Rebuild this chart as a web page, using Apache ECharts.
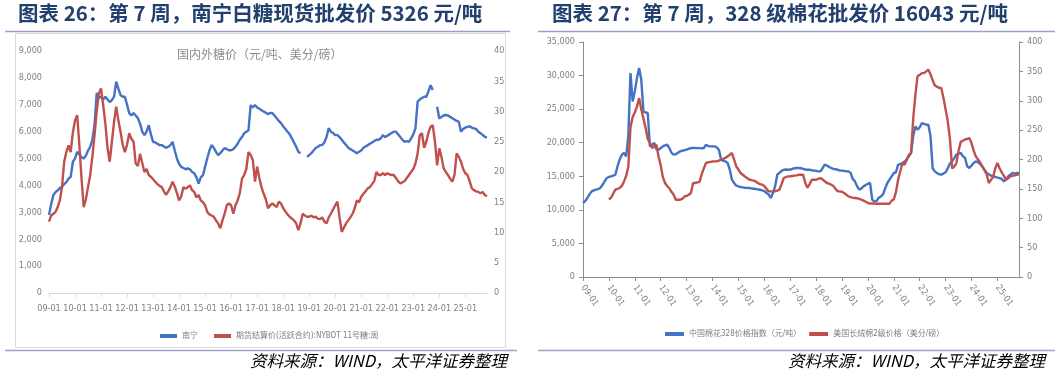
<!DOCTYPE html>
<html>
<head>
<meta charset="utf-8">
<title>糖价与棉价</title>
<script src="https://cdn.jsdelivr.net/npm/echarts@6/dist/echarts.min.js"></script>
<style>
  html, body { margin: 0; padding: 0; background: #fff; }
  #chart { width: 1060px; height: 377px; }
</style>
</head>
<body>
<div id="chart"></div>
<script>
// 月度横轴：09-01 ... 25-11
const years = ['09', '10', '11', '12', '13', '14', '15', '16', '17', '18', '19', '20', '21', '22', '23', '24', '25'];
const monthLabels = [];
years.forEach(y => {
  for (let m = 1; m <= 12; m++) monthLabels.push(y + '-' + (m < 10 ? '0' + m : m));
});
monthLabels.length = 203;

// 图表26 南宁白糖现货（元/吨，左轴）
const sugarNanning = [
  2900, 3300, 3640, 3750, 3820, 3900, 3950, 4050, 4120, 4250, 4320, 4880,
  5000, 5250, 5150, 5050, 5000, 5100, 5300, 5440, 5700, 6240, 7440, 7250,
  7300, 7200, 7300, 7200, 7100, 7175, 7300, 7860, 7600, 7360, 7300, 7300,
  7000, 6690, 6600, 6690, 6600, 6500, 6300, 6000, 5870, 6000, 6240, 5900,
  5620, 5600, 5550, 5500, 5500, 5450, 5400, 5440, 5500, 5620, 5300, 5000,
  4800, 4690, 4650, 4600, 4640, 4600, 4500, 4450, 4300, 4070, 4300, 4380,
  4700, 5010, 5300, 5500, 5400, 5250, 5130, 5200, 5300, 5390, 5350, 5310,
  5310, 5350, 5440, 5550, 5700, 5800, 5940, 6000, 6050, 6990, 6900, 6990,
  6900, 6850, 6800, 6750, 6700, 6650, 6700, 6690, 6600, 6500, 6400, 6320,
  6200, 6100, 6000, 5900, 5750, 5600, 5440, 5250, 5200, null, null, 5060,
  5130, 5200, 5300, 5390, 5440, 5500, 5500, 5600, 5800, 6130, 6000, 5950,
  5870, 5870, 5800, 5700, 5600, 5500, 5400, 5350, 5300, 5250, 5200, 5250,
  5300, 5400, 5450, 5500, 5550, 5600, 5650, 5700, 5700, 5750, 5870, 5800,
  5850, 5900, 5950, 6000, 6000, 5900, 5800, 5700, 5620, 5650, 5620, 5750,
  5900, 6120, 7110, 7200, 7250, 7300, 7300, 7500, 7730, 7550, null, 6930,
  6490, 6550, 6600, 6620, 6600, 6550, 6500, 6450, 6400, 6370, 6000, 6100,
  6150, 6180, 6200, 6150, 6120, 6100, 6000, 5940, 5880, 5810, 5780
];

// 图表26 NYBOT 11号糖期货结算价（美分/磅，右轴）
const sugarNybot = [
  11.8, 12.8, 13.1, 13.4, 14.2, 15.3, 17.5, 21.7, 23.3, 24.4, 23.3, 26.5,
  28.5, 29.4, 24.4, 19.0, 14.2, 15.5, 17.5, 19.5, 22.5, 26.1, 30.0, 33.0,
  33.8, 31.0, 28.0, 24.0, 21.7, 25.0, 28.3, 30.8, 28.5, 26.6, 24.5, 23.3,
  24.5, 26.4, 25.5, 25.0, 21.4, 21.0, 23.0, 21.5, 20.0, 20.5, 19.5, 19.2,
  18.8, 18.4, 18.0, 17.7, 17.5, 16.8, 16.2, 16.8, 17.5, 18.4, 17.6, 16.5,
  15.3, 16.0, 17.5, 17.2, 17.5, 17.8, 17.0, 16.7, 15.8, 16.2, 15.3, 15.0,
  14.5, 13.4, 13.0, 12.8, 12.6, 12.0, 11.5, 10.7, 12.0, 13.1, 14.5, 14.8,
  14.5, 13.1, 14.5, 15.3, 16.5, 18.9, 19.5, 20.5, 23.3, 22.8, 22.0, 18.4,
  20.9, 19.0, 17.5, 16.4, 15.5, 14.0, 14.5, 14.8, 14.5, 14.2, 15.1, 14.8,
  14.0, 13.5, 13.0, 12.6, 12.3, 12.0, 11.5, 10.4, 11.5, 13.1, 12.8, 12.6,
  12.6, 12.8, 12.5, 12.6, 12.3, 12.2, 12.5, 11.8, 11.5, 12.5, 13.1, 13.8,
  14.5, 15.1, 12.5, 10.1, 10.8, 11.5, 12.0, 12.5, 13.1, 14.0, 15.3, 15.0,
  15.9, 16.4, 16.8, 17.3, 17.5, 18.0, 18.5, 20.0, 19.5, 19.5, 19.8, 19.5,
  19.8, 19.6, 19.5, 19.5, 19.0, 18.5, 18.1, 18.3, 18.5, 19.0, 19.5, 20.0,
  20.5, 21.4, 23.0, 26.1, 26.4, 24.0, 25.0, 26.5, 27.5, 27.7, 25.0, 21.1,
  23.9, 22.5, 20.6, 20.0, 19.5, 18.9, 18.4, 19.5, 23.1, 22.5, 21.7, 20.5,
  19.8, 19.5, 18.5, 17.3, 17.0, 16.8, 16.7, 16.5, 16.7, 16.2, 16.0
];

// 图表27 中国棉花328价格指数（元/吨，左轴）
const cottonChina = [
  11020, 11300, 11770, 12300, 12750, 12900, 13000, 13100, 13260, 13700, 14240, 14740,
  14900, 14990, 15100, 15240, 16480, 17500, 18220, 18470, 17960, 21000, 30380, 26150,
  27640, 29640, 31130, 29390, 24660, 24500, 24430, 19450, 19700, 19960, 19000, 18960,
  19200, 19450, 19600, 19700, 19200, 18500, 18220, 18300, 18500, 18710, 18800, 18900,
  18960, 19100, 19210, 19210, 19210, 19200, 19200, 19150, 19210, 19700, 19500, 19450,
  19450, 19450, 19300, 18900, 17470, 17300, 17220, 16980, 15980, 14490, 14000, 13600,
  13500, 13400, 13350, 13300, 13280, 13250, 13200, 13150, 13100, 13050, 13000, 12900,
  12800, 12510, 12300, 11770, 12510, 13500, 15240, 15500, 15800, 15980, 16000, 15980,
  16000, 16100, 16200, 16230, 16230, 16200, 16100, 16000, 15980, 15980, 15900, 15850,
  15800, 15730, 15730, 16200, 16730, 16600, 16400, 16230, 16100, 16050, 15980, 15850,
  15850, 15800, 15730, 15730, 15500, 14600, 14240, 13500, 13000, 13200, 13500, 13700,
  13900, 14000, 11510, 11260, 11300, 11800, 12000, 12300, 13200, 14000, 14490, 15000,
  15490, 15600, 16730, 16800, 16980, 17200, 17500, 17960, 18500, 21000, 22430, 21940,
  22300, 22930, 22800, 22680, 22680, 21000, 16200, 15730, 15500, 15300, 15240, 15400,
  15600, 16200, 16900, 17220, 17700, 18220, 18400, 18470, 18000, 17720, 16500, 16230,
  16600, 16980, 17220, 17100, 16800, 16480, 16000, 15490, 15300, 15100, 14990, 14900,
  14800, 14740, 14600, 14240, 14500, 15000, 15240, 15490, 15400, 15500, 15450
];

// 图表27 美国长绒棉2级价格（美分/磅，右轴）
const cottonPima = [
  null, null, null, null, null, null, null, null, null, null, null, null,
  132, 135, 142, 148.6, 150, 151.5, 155, 162.7, 172, 188, 255, 272,
  280, 290, 304.7, 285, 270, 253.6, 235, 228, 219.6, 222, 225, 205,
  190, 170, 160, 155, 151, 145, 140, 131.6, 131.6, 131.6, 133, 137,
  138, 140, 143, 160, 160, 161, 162, 175, 185, 194, 195, 196,
  196.5, 196.8, 197, 198, 199.7, 201, 203, 205.3, 208, 211, 200, 188.3,
  183, 177, 174, 171, 168.5, 166, 165, 164, 162.7, 160, 158, 157.1,
  155, 150, 145.7, 145.7, 145.7, 146, 147, 148.6, 158, 168.5, 170, 171.2,
  171.5, 172, 172.5, 173, 174, 174.1, 174, 160, 152, 158, 165.6, 165.6,
  165.6, 167, 168.5, 166, 163, 160, 159, 157.1, 155, 150, 145.7, 145.7,
  145, 143, 140, 137.2, 136, 135, 134.5, 134, 133, 131.6, 130, 128,
  126, 125, 125, 125, 124.8, 124.8, 124.8, 124.8, 124.8, 124.8, 124.8, 130,
  132, 145, 165.6, 180, 194, 191, 200, 208, 211, 270, 310, 342,
  344, 347, 347, 350, 352.9, 345, 335, 326, 324, 322, 321.7, 305,
  285, 264.9, 235, 185, 188, 194, 215, 230, 232, 234, 235, 236.6,
  228, 215, 205, 200, 195, 188, 182, 175, 160, 165, 170, 185,
  194, 185, 178, 172, 165.6, 168, 171.2, 172, 173, 174.1, 175
];

const sugarNames = ['南宁', '期货结算价(活跃合约):NYBOT 11号糖:周'];
const cottonNames = ['中国棉花328价格指数（元/吨）', '美国长绒棉2级价格（美分/磅）'];

const BLUE = '#4472c4';
const RED = '#c0504d';
const GREY = '#7f7f7f';
const NUM_FONT = "'Liberation Sans Narrow', 'DejaVu Sans Condensed', 'Noto Sans CJK SC', sans-serif";
const CJK = "'Noto Sans CJK SC', sans-serif";

const chart = echarts.init(document.getElementById('chart'));

function valueAxis(grid, pos, max, step, showLine) {
  return {
    type: 'value',
    gridIndex: grid,
    position: pos,
    min: 0,
    max: max,
    interval: step,
    axisLine: {show: showLine, lineStyle: {color: '#8c8c8c'}},
    axisTick: {show: showLine, length: 4, lineStyle: {color: '#8c8c8c'}},
    splitLine: {show: false},
    axisLabel: {
      color: GREY,
      fontSize: 9,
      fontFamily: NUM_FONT,
      margin: showLine ? 8 : 7,
      formatter: v => v.toLocaleString('en-US')
    }
  };
}

function lineSeries(name, data, x, y, color) {
  return {
    name: name,
    type: 'line',
    xAxisIndex: x,
    yAxisIndex: y,
    data: data,
    symbol: 'none',
    connectNulls: false,
    lineStyle: {width: 2.4, color: color},
    itemStyle: {color: color}
  };
}

const option = {
  animation: false,
  textStyle: {fontFamily: NUM_FONT},
  grid: [
    {left: 49, right: 573, top: 51, bottom: 84},
    {left: 583, right: 41, top: 42, bottom: 100}
  ],
  xAxis: [
    {
      type: 'category',
      gridIndex: 0,
      data: monthLabels,
      boundaryGap: false,
      axisLine: {lineStyle: {color: '#d9d9d9'}},
      axisTick: {show: true, interval: 11, length: 4, lineStyle: {color: '#d9d9d9'}},
      axisLabel: {interval: 11, color: GREY, fontSize: 9, margin: 11}
    },
    {
      type: 'category',
      gridIndex: 1,
      data: monthLabels,
      boundaryGap: false,
      axisLine: {lineStyle: {color: '#8c8c8c'}},
      axisTick: {show: true, interval: 11, length: 4, lineStyle: {color: '#8c8c8c'}},
      axisLabel: {interval: 11, color: GREY, fontSize: 9, margin: 9, rotate: -55}
    }
  ],
  yAxis: [
    valueAxis(0, 'left', 9000, 1000, false),
    valueAxis(0, 'right', 40, 5, false),
    valueAxis(1, 'left', 35000, 5000, true),
    valueAxis(1, 'right', 400, 50, true)
  ],
  legend: [
    {
      data: sugarNames,
      left: 160,
      top: 332,
      padding: 0,
      icon: 'rect',
      itemWidth: 17,
      itemHeight: 4,
      itemGap: 16,
      textStyle: {color: GREY, fontSize: 8, fontFamily: NUM_FONT}
    },
    {
      data: cottonNames,
      left: 665,
      top: 330,
      padding: 0,
      icon: 'rect',
      itemWidth: 19,
      itemHeight: 4,
      itemGap: 8,
      textStyle: {color: GREY, fontSize: 8, fontFamily: NUM_FONT}
    }
  ],
  series: [
    lineSeries(sugarNames[0], sugarNanning, 0, 0, BLUE),
    lineSeries(sugarNames[1], sugarNybot, 0, 1, RED),
    lineSeries(cottonNames[0], cottonChina, 1, 2, BLUE),
    lineSeries(cottonNames[1], cottonPima, 1, 3, RED)
  ],
  graphic: [
    // 标题
    {type: 'text', left: 18, top: 3, style: {text: '图表 26：第 7 周，南宁白糖现货批发价 5326 元/吨', font: 'bold 20.5px ' + CJK, fill: '#22406e'}},
    {type: 'text', left: 552, top: 3, style: {text: '图表 27：第 7 周，328 级棉花批发价 16043 元/吨', font: 'bold 20.5px ' + CJK, fill: '#22406e'}},
    {type: 'line', shape: {x1: 5, y1: 31.5, x2: 510, y2: 31.5}, style: {stroke: '#a0a0cc', lineWidth: 1.5}},
    {type: 'line', shape: {x1: 538, y1: 31.5, x2: 1055, y2: 31.5}, style: {stroke: '#a0a0cc', lineWidth: 1.5}},
    // 左图边框和内标题
    {type: 'rect', shape: {x: 15.5, y: 33.5, width: 490, height: 314}, style: {fill: null, stroke: '#d9d9d9', lineWidth: 1}, silent: true},
    {type: 'text', left: 177, top: 48, style: {text: '国内外糖价（元/吨、美分/磅）', font: '12px ' + CJK, fill: '#8c8c8c'}},
    // 底线和来源
    {type: 'line', shape: {x1: 5, y1: 350.5, x2: 517, y2: 350.5}, style: {stroke: '#a0a0cc', lineWidth: 1.5}},
    {type: 'line', shape: {x1: 538, y1: 350.5, x2: 1055, y2: 350.5}, style: {stroke: '#a0a0cc', lineWidth: 1.5}},
    {type: 'text', right: 553, top: 352, style: {text: '资料来源：WIND，太平洋证券整理', font: 'italic 16.5px ' + CJK, fill: '#000'}},
    {type: 'text', right: 15, top: 352, style: {text: '资料来源：WIND，太平洋证券整理', font: 'italic 16.5px ' + CJK, fill: '#000'}}
  ]
};

chart.setOption(option);
</script>
</body>
</html>
